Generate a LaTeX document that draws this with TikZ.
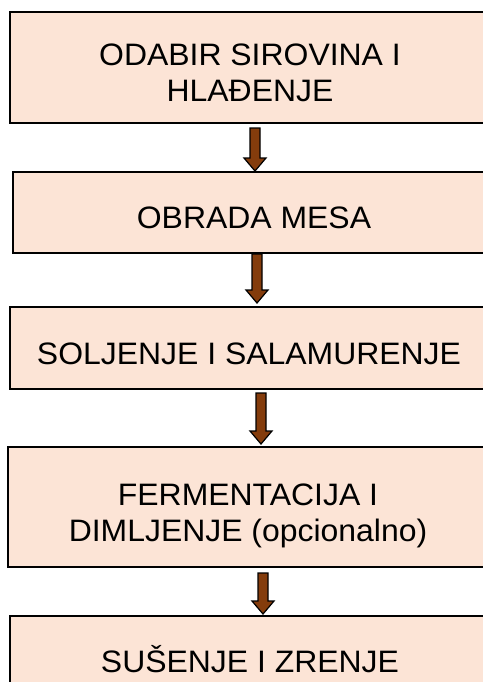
\documentclass[tikz,border=0pt]{standalone}
\usepackage{fontspec}
\setmainfont[FakeStretch=1.03]{Liberation Sans}
\usetikzlibrary{calc,positioning}

\definecolor{stagefill}{HTML}{FCE4D6}
\definecolor{arrowbrown}{HTML}{843C0C}

% block arrow from #1 (top of shaft) down to #2 (tip)
\newcommand{\downstep}[2]{%
	\draw[flow] ($(#1)+(-5,0)$) -- ($(#2)+(-5,-13)$) -- ($(#2)+(-11,-13)$) -- (#2)
		-- ($(#2)+(11,-13)$) -- ($(#2)+(5,-13)$) -- ($(#1)+(5,0)$) -- cycle;}

\begin{document}
\begin{tikzpicture}[x=0.5pt,y=-0.5pt]
	\tikzstyle{stage} = [draw=black,line width=1pt,fill=stagefill,inner sep=0pt,align=center,font=\fontsize{15.5pt}{18pt}\selectfont]
	\tikzstyle{oneline} = [stage,text height=16.1pt,text depth=0pt]
	\tikzstyle{twoline} = [stage,text height=34.1pt,text depth=0pt]
	\tikzstyle{flow} = [draw=black,line width=0.6pt,fill=arrowbrown,line join=miter]
	\clip (0,0) rectangle (483,682);

	\node[twoline,minimum width=240pt,minimum height=55.5pt] (odabir) at (250,67.5) {ODABIR SIROVINA I\\HLAĐENJE};
	\node[oneline,minimum width=241pt,minimum height=40.5pt] (obrada) at (254,212.5) {OBRADA MESA};
	\node[oneline,minimum width=239pt,minimum height=41pt] (soljenje) at (249,348) {SOLJENJE I SALAMURENJE};
	\node[twoline,minimum width=240pt,minimum height=60pt] (fermentacija) at (248,507) {FERMENTACIJA I\\DIMLJENJE (opcionalno)};
	\node[oneline,minimum width=240pt,minimum height=40.5pt] (susenje) at (250,656.5) {SUŠENJE I ZRENJE};

	\coordinate[below=2pt of odabir.south,xshift=2.5pt] (A);
	\coordinate[below=0pt of obrada.north,xshift=0.5pt] (B);
	\coordinate[below=0pt of obrada.south,xshift=1.5pt] (C);
	\coordinate[above=1.5pt of soljenje.north,xshift=4pt] (D);
	\coordinate[below=1.5pt of soljenje.south,xshift=6pt] (E);
	\coordinate[above=1pt of fermentacija.north,xshift=6.5pt] (F);
	\coordinate[below=2.5pt of fermentacija.south,xshift=7.5pt] (G);
	\coordinate[above=0.5pt of susenje.north,xshift=6.5pt] (H);

	\downstep{A}{B}
	\downstep{C}{D}
	\downstep{E}{F}
	\downstep{G}{H}
\end{tikzpicture}
\end{document}
